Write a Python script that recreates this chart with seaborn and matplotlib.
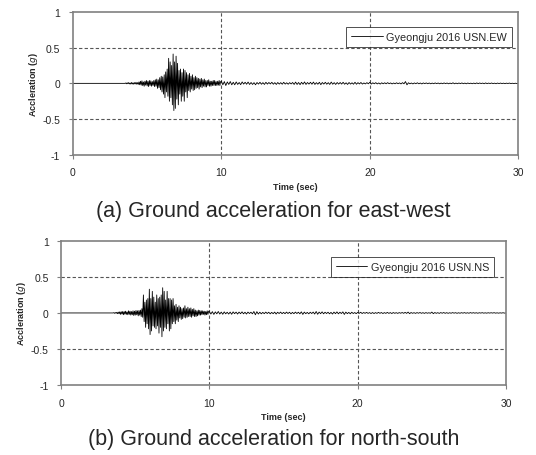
import numpy as np
import matplotlib
matplotlib.use('Agg')
import matplotlib.pyplot as plt
import seaborn as sns

# EW record, 3.5-9.95 s at 0.05 s
ew_strong = [
    0.0, 0.005, -0.006, 0.008, -0.005, 0.01, -0.008, 0.006, -0.01, 0.012, -0.009, 0.008, -0.012, 0.01, -0.008, 0.015, -0.012, 0.01, -0.015, 0.02,
    -0.02, 0.03, -0.025, 0.035, -0.03, 0.02, -0.04, 0.03, -0.025, 0.04, -0.035, 0.03, -0.045, 0.04, -0.03, 0.035, -0.04, 0.025, -0.03, 0.04,
    -0.045, 0.05, -0.04, 0.06, -0.07, 0.05, -0.06, 0.08, -0.09, 0.1, -0.12, 0.09, -0.15, 0.12, -0.2, 0.16, -0.12, 0.2, -0.18, 0.35,
    -0.25, 0.3, -0.2, 0.25, -0.3, 0.41, -0.38, 0.3, -0.35, 0.38, -0.22, 0.28, -0.3, 0.18, -0.15, 0.2, -0.25, 0.15, -0.18, 0.2,
    -0.25, 0.18, -0.12, 0.15, -0.2, 0.12, -0.1, 0.14, -0.12, 0.1, -0.08, 0.12, -0.1, 0.08, -0.09, 0.1, -0.07, 0.08, -0.06, 0.07,
    -0.08, 0.06, -0.05, 0.07, -0.06, 0.05, -0.04, 0.06, -0.05, 0.04, -0.05, 0.04, -0.03, 0.05, -0.04, 0.03, -0.04, 0.03, -0.03, 0.04,
    -0.03, 0.04, -0.03, 0.025, -0.03, 0.03, -0.025, 0.04, -0.03, 0.025,
]
# EW record, 10-29.9 s at 0.1 s
ew_tail = [
    0.03, -0.02, 0.025, -0.03, 0.02, -0.015, 0.025, -0.02, 0.015, -0.02,
    0.02, -0.015, 0.012, -0.018, 0.02, -0.01, 0.015, -0.012, 0.018, -0.015,
    0.012, -0.015, 0.01, -0.02, 0.012, -0.01, 0.015, -0.012, 0.01, -0.015,
    0.015, -0.01, 0.012, -0.008, 0.015, -0.012, 0.01, -0.015, 0.012, -0.01,
    0.01, -0.012, 0.015, -0.01, 0.008, -0.012, 0.01, -0.008, 0.012, -0.015,
    0.018, -0.015, 0.012, -0.018, 0.015, -0.012, 0.02, -0.015, 0.012, -0.01,
    0.015, -0.012, 0.018, -0.015, 0.01, -0.012, 0.015, -0.018, 0.012, -0.01,
    0.015, -0.012, 0.01, -0.015, 0.018, -0.012, 0.01, -0.015, 0.012, -0.01,
    0.012, -0.01, 0.015, -0.012, 0.008, -0.015, 0.012, -0.01, 0.008, -0.012,
    0.015, -0.012, 0.01, -0.008, 0.012, -0.01, 0.006, -0.008, 0.01, -0.006,
    0.015, -0.01, 0.008, -0.006, 0.01, -0.008, 0.006, -0.01, 0.008, -0.006,
    0.008, -0.006, 0.01, -0.005, 0.006, -0.008, 0.005, -0.006, 0.008, -0.005,
    0.006, -0.008, 0.01, -0.006, 0.025, -0.02, 0.008, -0.006, 0.005, -0.008,
    0.006, -0.005, 0.008, -0.006, 0.005, -0.008, 0.006, -0.004, 0.006, -0.005,
    0.005, -0.006, 0.004, -0.005, 0.006, -0.004, 0.005, -0.006, 0.004, -0.005,
    0.006, -0.004, 0.005, -0.006, 0.004, -0.005, 0.008, -0.006, 0.004, -0.005,
    0.005, -0.004, 0.006, -0.005, 0.004, -0.006, 0.005, -0.004, 0.003, -0.005,
    0.004, -0.005, 0.006, -0.004, 0.005, -0.003, 0.004, -0.005, 0.006, -0.004,
    0.004, -0.003, 0.005, -0.004, 0.003, -0.005, 0.004, -0.003, 0.004, -0.003,
    0.003, -0.004, 0.003, -0.002, 0.004, -0.003, 0.002, -0.003, 0.002, -0.002,
]

# NS record, same sampling
ns_strong = [
    0.0, 0.004, -0.005, 0.006, -0.004, 0.008, -0.01, 0.012, -0.01, 0.015, -0.02, 0.018, -0.015, 0.02, -0.025, 0.02, -0.018, 0.025, -0.02, 0.015,
    -0.025, 0.03, -0.02, 0.025, -0.03, 0.02, -0.025, 0.03, -0.035, 0.025, -0.03, 0.035, -0.025, 0.03, -0.04, 0.035, -0.03, 0.04, -0.05, 0.06,
    -0.06, 0.25, -0.12, 0.15, -0.2, 0.18, -0.15, 0.2, -0.22, 0.33, -0.3, 0.2, -0.25, 0.3, -0.18, 0.22, -0.2, 0.15, -0.22, 0.25,
    -0.18, 0.2, -0.28, 0.22, -0.2, 0.25, -0.33, 0.35, -0.25, 0.3, -0.2, 0.18, -0.22, 0.3, -0.15, 0.2, -0.25, 0.2, -0.22, 0.18,
    -0.15, 0.2, -0.12, 0.1, -0.15, 0.12, -0.1, 0.08, -0.12, 0.1, -0.07, 0.08, -0.09, 0.06, -0.08, 0.07, -0.06, 0.1, -0.07, 0.06,
    -0.06, 0.08, -0.05, 0.06, -0.05, 0.07, -0.06, 0.05, -0.04, 0.06, -0.05, 0.04, -0.05, 0.03, -0.04, 0.04, -0.03, 0.035, -0.03, 0.03,
    -0.025, 0.03, -0.02, 0.025, -0.03, 0.02, -0.025, 0.03, -0.02, 0.025,
]
ns_tail = [
    0.02, -0.015, 0.018, -0.02, 0.015, -0.012, 0.02, -0.015, 0.012, -0.018,
    0.015, -0.012, 0.01, -0.015, 0.012, -0.018, 0.015, -0.01, 0.012, -0.015,
    0.012, -0.01, 0.015, -0.012, 0.01, -0.015, 0.012, -0.008, 0.01, -0.012,
    0.02, -0.025, 0.018, -0.015, 0.01, -0.012, 0.008, -0.01, 0.012, -0.008,
    0.01, -0.012, 0.008, -0.01, 0.012, -0.015, 0.01, -0.008, 0.012, -0.01,
    0.008, -0.01, 0.012, -0.008, 0.01, -0.012, 0.008, -0.01, 0.012, -0.008,
    0.01, -0.012, 0.015, -0.02, 0.012, -0.01, 0.008, -0.012, 0.01, -0.008,
    0.012, -0.015, 0.02, -0.018, 0.012, -0.01, 0.015, -0.012, 0.01, -0.008,
    0.01, -0.012, 0.008, -0.015, 0.012, -0.01, 0.015, -0.012, 0.01, -0.008,
    0.015, -0.02, 0.012, -0.01, 0.008, -0.012, 0.01, -0.008, 0.006, -0.01,
    0.008, -0.006, 0.01, -0.008, 0.006, -0.005, 0.008, -0.006, 0.005, -0.008,
    0.006, -0.008, 0.005, -0.006, 0.008, -0.005, 0.006, -0.008, 0.005, -0.006,
    0.008, -0.006, 0.005, -0.008, 0.006, -0.005, 0.004, -0.006, 0.005, -0.004,
    0.006, -0.005, 0.008, -0.006, 0.012, -0.01, 0.006, -0.005, 0.004, -0.006,
    0.005, -0.004, 0.006, -0.005, 0.004, -0.006, 0.005, -0.004, 0.003, -0.005,
    0.012, -0.01, 0.006, -0.005, 0.004, -0.006, 0.005, -0.004, 0.006, -0.005,
    0.004, -0.005, 0.003, -0.004, 0.005, -0.003, 0.004, -0.005, 0.003, -0.004,
    0.004, -0.003, 0.005, -0.004, 0.003, -0.004, 0.005, -0.003, 0.004, -0.003,
    0.003, -0.004, 0.003, -0.002, 0.004, -0.003, 0.002, -0.003, 0.003, -0.002,
    0.003, -0.002, 0.004, -0.003, 0.002, -0.003, 0.002, -0.002, 0.003, -0.002,
]

labels = ['Gyeongju 2016 USN.EW', 'Gyeongju 2016 USN.NS']
captions = ['(a) Ground acceleration for east-west', '(b) Ground acceleration for north-south']
yticks = [-1, -0.5, 0, 0.5, 1]
ytick_labels = ['-1', '-0.5', '0', '0.5', '1']
xticks = [0, 10, 20, 30]

# sampling grid: quiet start, 0.05 s strong motion, 0.1 s coda
t = np.concatenate([[0.0], np.arange(len(ew_strong)) * 0.05 + 3.5,
                    np.arange(len(ew_tail)) * 0.1 + 10.0, [30.0]])
ew = np.concatenate([[0.0], ew_strong, ew_tail, [0.0]])
ns = np.concatenate([[0.0], ns_strong, ns_tail, [0.0]])

sns.set_style('white')
plt.rcParams['font.family'] = ['Liberation Sans', 'DejaVu Sans']

fig = plt.figure(figsize=(5.36, 4.56), dpi=100)
axes = [fig.add_axes([0.136, 0.658, 0.831, 0.314]),
        fig.add_axes([0.114, 0.1535, 0.830, 0.316])]
leg_anchor = [(0.985, 0.893), (0.973, 0.886)]

for ax, y, lab, anc in zip(axes, [ew, ns], labels, leg_anchor):
    sns.lineplot(x=t, y=y, ax=ax, color='black', lw=0.6, estimator=None,
                 sort=False, label=lab)
    ax.set_xlim(0, 30)
    ax.set_ylim(-1, 1)
    ax.set_xticks(xticks)
    ax.set_yticks(yticks)
    ax.set_yticklabels(ytick_labels)
    for v in [10, 20]:
        ax.axvline(v, color='#555555', lw=0.8, ls=(0, (3, 2)), zorder=0)
    for v in [-0.5, 0.5]:
        ax.axhline(v, color='#555555', lw=0.8, ls=(0, (3, 2)), zorder=0)
    for s in ax.spines.values():
        s.set_color('#808080')
        s.set_linewidth(1.2)
    ax.tick_params(axis='both', labelsize=7.5, length=3, color='#808080',
                   direction='out', left=True, bottom=True, pad=6)
    ax.set_xlabel('Time (sec)', fontsize=6.5, fontweight='bold', labelpad=3)
    ax.set_ylabel('Accleration ($g$)', fontsize=6.5, fontweight='bold', labelpad=2)
    leg = ax.legend(loc='upper right', bbox_to_anchor=anc, fontsize=7.8,
                    frameon=True, fancybox=False, handlelength=2.9,
                    borderpad=0.45, handletextpad=0.3, borderaxespad=0)
    leg.get_frame().set_edgecolor('black')
    leg.get_frame().set_linewidth(0.6)

fig.text(0.51, 1 - 212 / 456, captions[0], ha='center', va='center', fontsize=15.5)
fig.text(0.51, 1 - 440 / 456, captions[1], ha='center', va='center', fontsize=15.5)

fig.savefig('out.png', dpi=100)
